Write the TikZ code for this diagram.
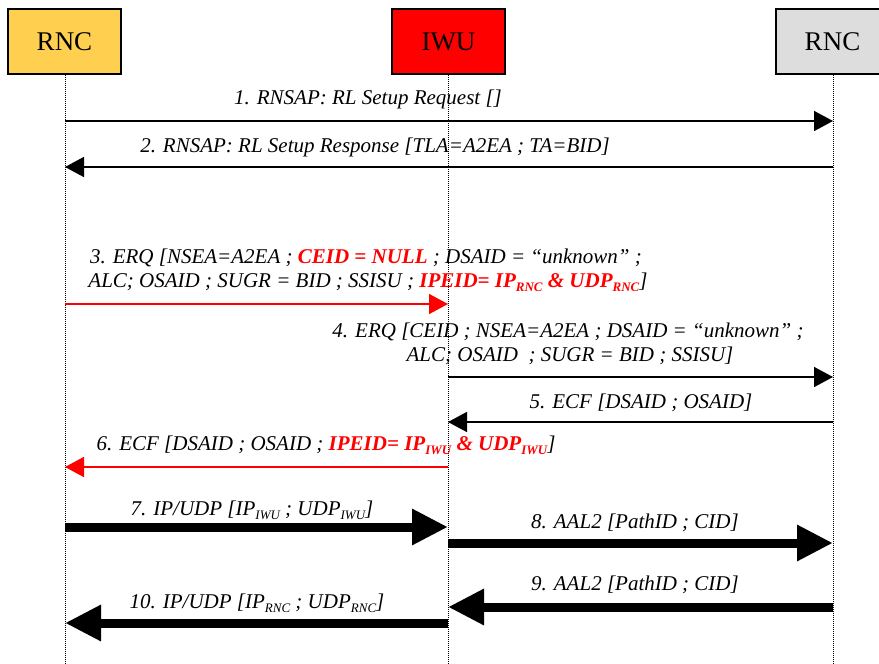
\documentclass[tikz,border=0pt]{standalone}
\usepackage{fontspec}
\setmainfont{Liberation Serif}
\usetikzlibrary{arrows.meta}
\definecolor{rncyellow}{HTML}{FFD04F}
\definecolor{rncgray}{HTML}{DDDDDD}
\definecolor{iwured}{HTML}{FF0000}
\newcommand\sbx[1]{\raisebox{-4.5pt}{\fontsize{13}{13}\selectfont #1}}
\newcommand\hl[1]{\textcolor{iwured}{\bfseries #1}}
\tikzset{
 entity/.style={draw=black, line width=1.5pt, minimum width=113pt, minimum height=65pt, inner sep=0pt, font=\fontsize{27}{30}\selectfont},
 life/.style={line width=1pt, dash pattern=on 1pt off 1pt},
 msg/.style={line width=1.6pt, -{Triangle[length=19pt,width=20pt]}},
 redmsg/.style={msg, draw=iwured, fill=iwured},
 bigmsg/.style={line width=9pt, -{Triangle[length=36pt,width=34pt]}},
 lbl/.style={inner sep=0pt, anchor=base, font=\fontsize{21}{25}\selectfont\itshape},
}
\begin{document}
\begin{tikzpicture}[x=1pt,y=-1pt]
\useasboundingbox (0,0) rectangle (879,664);
\clip (0,0) rectangle (879,664);
% entities
\node[entity, fill=rncyellow] (rncA) at (64.5,41.5) {RNC};
\node[entity, fill=iwured] (iwu) at (448.5,41.5) {IWU};
\node[entity, fill=rncgray] (rncB) at (832.5,41.5) {RNC};
% lifeline ends
\coordinate (endA) at (65,664);
\coordinate (endI) at (448,664);
\coordinate (endB) at (833,664);
\draw[life] (rncA.south -| endA) -- (endA);
\draw[life] (iwu.south -| endI) -- (endI);
\draw[life] (rncB.south -| endB) -- (endB);
% message endpoints
\foreach \n/\y in {1/121,2/167,3/304,4/377,5/422,6/467,7/527,8/543,9/607,10/623}{
  \coordinate (A\n) at (65,\y);
  \coordinate (I\n) at (448,\y);
  \coordinate (B\n) at (833,\y);
}
% labels
\node[lbl] (t1) at (368,104) {1. RNSAP: RL Setup Request []};
\node[lbl] (t2) at (375,152) {2. RNSAP: RL Setup Response [TLA=A2EA ; TA=BID]};
\node[lbl] (t3a) at (366,263) {3. ERQ [NSEA=A2EA ; \hl{CEID = NULL} ; DSAID = “unknown” ;};
\node[lbl] (t3b) at (368,287) {ALC; OSAID ; SUGR = BID ; SSISU ; \hl{IPEID= IP\sbx{RNC} \& UDP\sbx{RNC}}]};
\node[lbl] (t4a) at (568,337) {4. ERQ [CEID ; NSEA=A2EA ; DSAID = “unknown” ;};
\node[lbl] (t4b) at (570,361) {ALC; OSAID \ ; SUGR = BID ; SSISU]};
\node[lbl] (t5) at (641,408) {5. ECF [DSAID ; OSAID]};
\node[lbl] (t6) at (326,450) {6. ECF [DSAID ; OSAID ; \hl{IPEID= IP\sbx{IWU} \& UDP\sbx{IWU}}]};
\node[lbl] (t7) at (252,515) {7. IP/UDP [IP\sbx{IWU} ; UDP\sbx{IWU}]};
\node[lbl] (t8) at (635,528) {8. AAL2 [PathID ; CID]};
\node[lbl] (t9) at (635,590) {9. AAL2 [PathID ; CID]};
\node[lbl] (t10) at (257,608) {10. IP/UDP [IP\sbx{RNC} ; UDP\sbx{RNC}]};
% messages
\draw[msg] (A1) -- (B1);
\draw[msg] (B2) -- (A2);
\draw[redmsg] (A3) -- (I3);
\draw[msg] (I4) -- (B4);
\draw[msg] (B5) -- (I5);
\draw[redmsg] (I6) -- (A6);
\draw[bigmsg] (A7) -- (I7);
\draw[bigmsg] (I8) -- (B8);
\draw[bigmsg] (B9) -- (I9);
\draw[bigmsg] (I10) -- (A10);
\end{tikzpicture}
\end{document}
